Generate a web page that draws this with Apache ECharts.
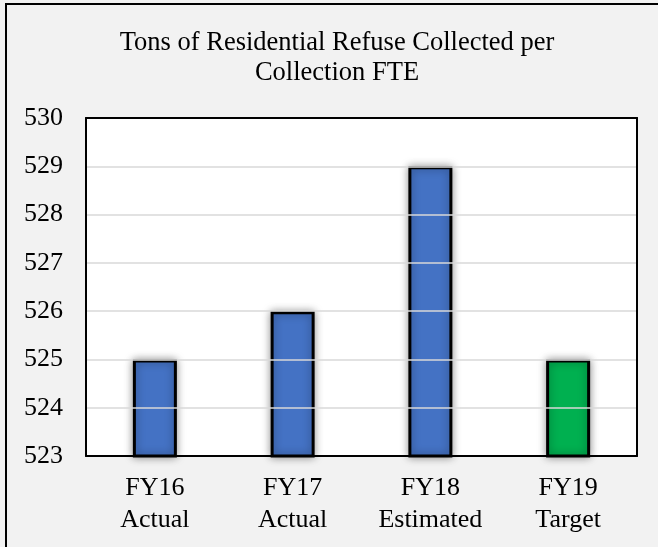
<!DOCTYPE html>
<html>
<head>
<meta charset="utf-8">
<script src="https://cdn.jsdelivr.net/npm/echarts@6/dist/echarts.min.js"></script>
<style>
  html, body { margin: 0; padding: 0; background: #f2f2f2; }
  #chart { width: 658px; height: 547px; }
</style>
</head>
<body>
<div id="chart"></div>
<script>
// Fiscal years and their status labels along the category axis
const years = ['FY16', 'FY17', 'FY18', 'FY19'];
const kinds = ['Actual', 'Actual', 'Estimated', 'Target'];
// Tons of residential refuse collected per collection FTE
const tons = [525, 526, 529, 525];
// Value axis range
const yMin = 523;
const yMax = 530;
const yStep = 1;

const FONT = '"Liberation Serif", "Times New Roman", serif';
const BLUE = '#4472c4';
const GREEN = '#00b050';

const chart = echarts.init(document.getElementById('chart'), null, { renderer: 'canvas' });

const categories = years.map((y, i) => y + '\n' + kinds[i]);
const barData = tons.map((v, i) => ({
  value: v,
  itemStyle: { color: kinds[i] === 'Target' ? GREEN : BLUE }
}));

// Frame line for the plot area, drawn on all four sides via axis lines
const frame = { show: true, lineStyle: { color: '#000', width: 2 } };

chart.setOption({
  backgroundColor: '#f2f2f2',
  animation: false,
  graphic: [
    {
      type: 'rect',
      shape: { x: 6, y: 4, width: 700, height: 600 },
      style: { fill: 'none', stroke: '#000', lineWidth: 2 },
      silent: true,
      z: 0
    },
    {
      type: 'text',
      x: 337,
      y: 28,
      style: {
        text: 'Tons of Residential Refuse Collected per\nCollection FTE',
        font: '26.5px ' + FONT,
        fill: '#000',
        textAlign: 'center',
        lineHeight: 30
      },
      silent: true
    }
  ],
  grid: {
    left: 86,
    right: 21,
    top: 118,
    bottom: 91,
    show: true,
    backgroundColor: '#ffffff',
    borderWidth: 0
  },
  xAxis: [
    {
      type: 'category',
      data: categories,
      position: 'bottom',
      axisLine: frame,
      axisTick: { show: false },
      axisLabel: {
        color: '#000',
        fontFamily: FONT,
        fontSize: 26,
        lineHeight: 32,
        margin: 16
      },
      z: 5
    },
    {
      type: 'category',
      data: categories,
      position: 'top',
      axisLine: frame,
      axisTick: { show: false },
      axisLabel: { show: false },
      z: 5
    }
  ],
  yAxis: [
    {
      type: 'value',
      min: yMin,
      max: yMax,
      interval: yStep,
      position: 'left',
      axisLine: frame,
      axisTick: { show: false },
      splitLine: { lineStyle: { color: '#d9d9d9', width: 1.5 } },
      axisLabel: {
        color: '#000',
        fontFamily: FONT,
        fontSize: 26,
        margin: 23
      },
      z: 5
    },
    {
      type: 'value',
      min: yMin,
      max: yMax,
      interval: yStep,
      position: 'right',
      axisLine: frame,
      axisTick: { show: false },
      splitLine: { show: false },
      axisLabel: { show: false },
      z: 5
    }
  ],
  series: [{
    type: 'bar',
    data: barData,
    barWidth: 44,
    itemStyle: {
      borderColor: '#000',
      borderWidth: 3,
      shadowBlur: 8,
      shadowColor: 'rgba(0,0,0,0.4)'
    }
  }]
});
</script>
</body>
</html>
